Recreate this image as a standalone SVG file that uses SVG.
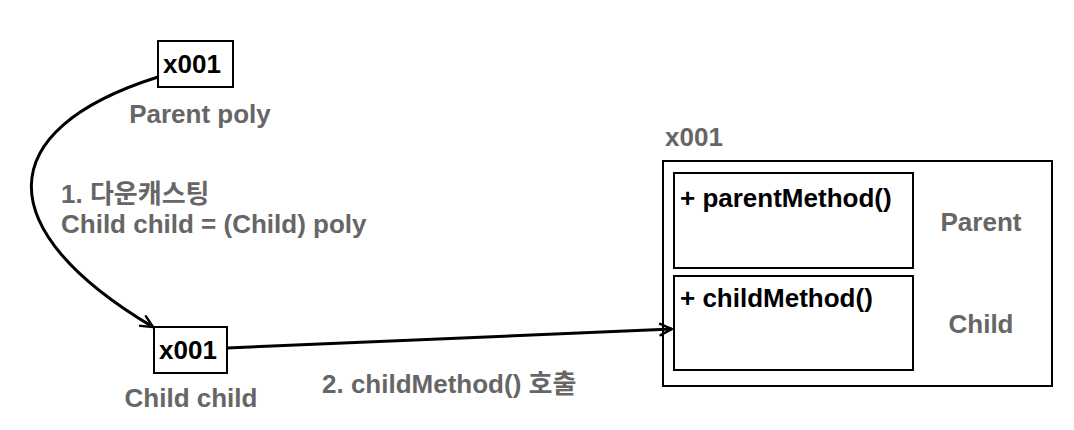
<svg xmlns="http://www.w3.org/2000/svg" width="1074" height="430" viewBox="0 0 1074 430">
<style>
text { font-family: "Liberation Sans", "Noto Sans CJK KR", sans-serif; font-weight: bold; }
.blk { fill: #000; font-size: 26px; }
.gry { fill: #666; font-size: 26px; }
.box { fill: #fff; stroke: #000; stroke-width: 2; }
.conn { fill: none; stroke: #000; stroke-width: 3; }
</style>
<defs>
<marker id="arr" viewBox="0 0 16 16" refX="14.5" refY="8" markerWidth="15" markerHeight="15" markerUnits="userSpaceOnUse" orient="auto">
<path d="M2,2 L14.5,8 L2,14" fill="none" stroke="#000" stroke-width="2.6" stroke-linecap="round" stroke-linejoin="round"/>
</marker>
</defs>
<rect width="1074" height="430" fill="#fff"/>
<g id="parent-poly">
<rect class="box" x="158" y="41" width="75" height="46"/>
<text class="blk" x="163" y="73">x001</text>
<text class="gry" x="200" y="123" text-anchor="middle">Parent poly</text>
</g>
<g id="child-child">
<rect class="box" x="154" y="327" width="73" height="46"/>
<text class="blk" x="159" y="359">x001</text>
<text class="gry" x="191" y="407" text-anchor="middle">Child child</text>
</g>
<g id="label-downcast">
<text class="gry" x="61" y="203">1. 다운캐스팅</text>
<text class="gry" x="61" y="233">Child child = (Child) poly</text>
</g>
<g id="label-call">
<text class="gry" x="322" y="393">2. childMethod() 호출</text>
</g>
<g id="instance">
<text class="gry" x="665" y="146">x001</text>
<rect class="box" x="663" y="161" width="389" height="225"/>
<g id="parent-part">
<rect class="box" x="674" y="173" width="239" height="95"/>
<text class="blk" x="680" y="207">+ parentMethod()</text>
<text class="gry" x="981" y="231" text-anchor="middle">Parent</text>
</g>
<g id="child-part">
<rect class="box" x="674" y="276" width="239" height="94"/>
<text class="blk" x="680" y="307">+ childMethod()</text>
<text class="gry" x="981" y="333" text-anchor="middle">Child</text>
</g>
</g>
<g id="connectors">
<path class="conn" d="M158,77 C-10,130 -10,230 153,327" marker-end="url(#arr)"/>
<path class="conn" d="M227,348 L672,329" marker-end="url(#arr)"/>
</g>
</svg>
